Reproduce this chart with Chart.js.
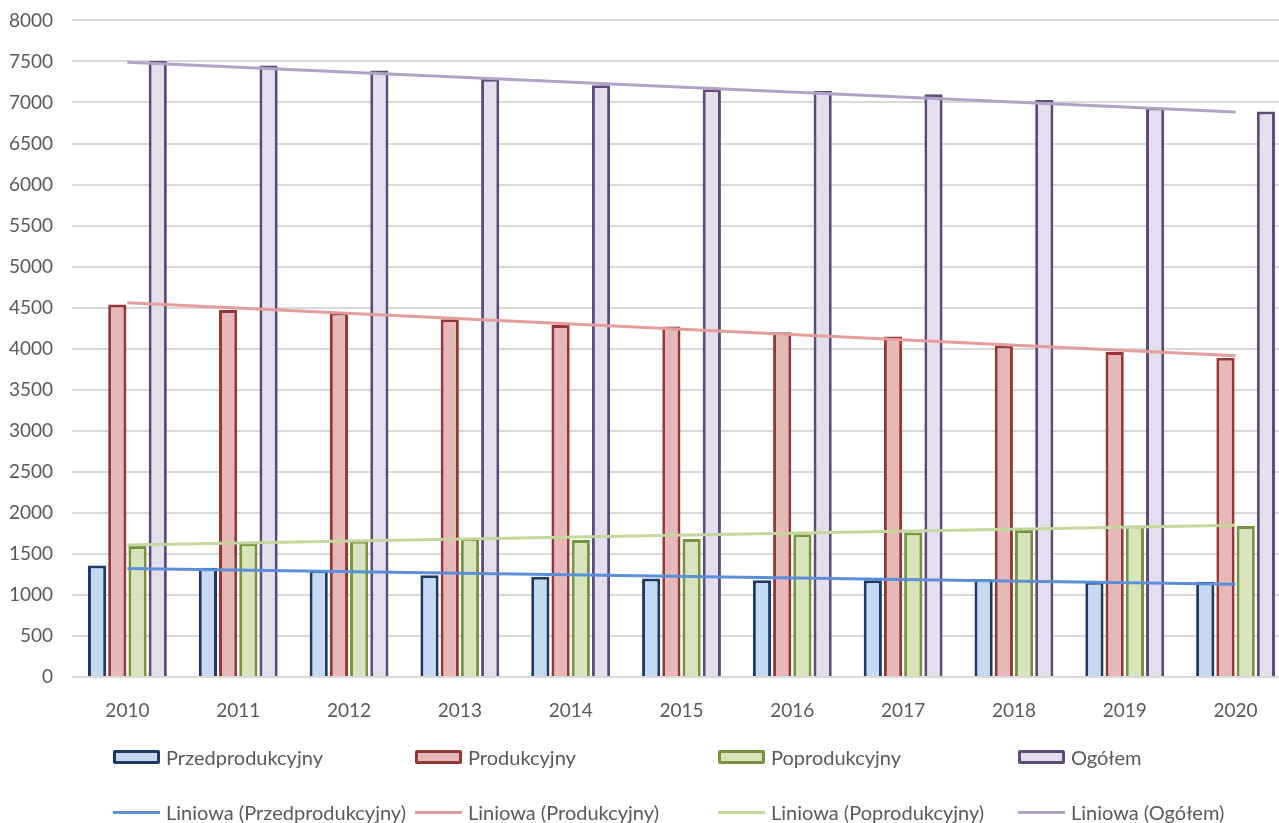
<!DOCTYPE html>
<html>
<head>
<meta charset="utf-8">
<script src="https://cdn.jsdelivr.net/npm/chart.js@4.4.0/dist/chart.umd.min.js"></script>
<style>
html, body { margin: 0; padding: 0; background: #fff; overflow: hidden; width: 1279px; height: 823px; }
#wrap { position: absolute; left: 0; top: -10px; width: 1291px; height: 740px; }
#legend { position: absolute; left: 0; top: 0; width: 1279px; height: 823px; font-family: Lato, sans-serif; font-size: 20px; color: #595959; }
.item { position: absolute; display: flex; align-items: center; white-space: nowrap; height: 24px; }
.box { width: 41px; height: 8px; border: 3px solid; margin-right: 6px; border-radius: 2px; }
.line { width: 47px; height: 3px; margin-right: 6px; }
</style>
</head>
<body>
<div id="wrap"><canvas id="chart"></canvas></div>
<div id="legend"></div>
<script>
// years on the x axis
var years = ["2010", "2011", "2012", "2013", "2014", "2015", "2016", "2017", "2018", "2019", "2020"];

// bar values
var przedprodukcyjny = [1360, 1330, 1300, 1240, 1220, 1200, 1180, 1180, 1190, 1160, 1160];
var produkcyjny = [4540, 4470, 4440, 4360, 4290, 4270, 4200, 4150, 4040, 3960, 3890];
var poprodukcyjny = [1595, 1630, 1660, 1690, 1670, 1680, 1740, 1760, 1790, 1845, 1840];
var ogolem = [7505, 7450, 7390, 7290, 7210, 7160, 7140, 7100, 7030, 6940, 6890];

// linear trend lines: value at 2010 and at 2020
var trendPrzed = [1323, 1130];
var trendProd = [4560, 3915];
var trendPopr = [1608, 1850];
var trendOgol = [7490, 6885];

var yTicksMin = 0, yTicksMax = 8000, yStep = 500;

var seriesNames = ["Przedprodukcyjny", "Produkcyjny", "Poprodukcyjny", "Ogółem"];
var fillColors = ["#C5D9F1", "#E6B9B8", "#D7E4BD", "#E4DFEC"];
var edgeColors = ["#1F3864", "#953735", "#77933C", "#604A7B"];
var trendColors = ["#5B8FD9", "#E39D9B", "#C3D69B", "#B3A2C7"];

var textColor = "#595959";
var fontFamily = "Lato, sans-serif";

var ends = (pair) => {
    var arr = [];
    for (var i = 0; i < years.length; i++) arr.push(null);
    arr[0] = pair[0];
    arr[years.length - 1] = pair[1];
    return arr;
};

var barSets = [przedprodukcyjny, produkcyjny, poprodukcyjny, ogolem];
var trendSets = [trendPrzed, trendProd, trendPopr, trendOgol];

var datasets = [];
for (var i = 0; i < 4; i++) {
    datasets.push({
        type: 'line',
        label: 'Liniowa (' + seriesNames[i] + ')',
        data: ends(trendSets[i]),
        borderColor: trendColors[i],
        backgroundColor: trendColors[i],
        borderWidth: 3,
        pointRadius: 0,
        spanGaps: true,
        fill: false,
        order: 0
    });
}
for (var i = 0; i < 4; i++) {
    datasets.push({
        type: 'bar',
        label: seriesNames[i],
        data: barSets[i],
        backgroundColor: fillColors[i],
        borderColor: edgeColors[i],
        borderWidth: 3,
        barPercentage: 0.9,
        categoryPercentage: 0.73,
        order: 1
    });
}

var ctx = document.getElementById('chart').getContext('2d');
var chart = new Chart(ctx, {
    data: { labels: years, datasets: datasets },
    options: {
        responsive: true,
        maintainAspectRatio: false,
        animation: false,
        layout: { padding: { top: 10, left: 0, right: 0, bottom: 0 } },
        plugins: { legend: { display: false }, tooltip: { enabled: false } },
        scales: {
            x: {
                grid: { display: false },
                border: { display: false },
                ticks: { color: textColor, font: { family: fontFamily, size: 19 }, padding: 14, maxRotation: 0 },
                afterFit: (s) => { s.height = 53; }
            },
            y: {
                min: yTicksMin,
                max: yTicksMax,
                grid: { color: "#D9D9D9", lineWidth: 2, drawTicks: false },
                border: { display: false },
                ticks: {
                    stepSize: yStep, color: textColor, font: { family: fontFamily, size: 19 }, padding: 19,
                    callback: (v) => String(v)
                },
                afterFit: (s) => { s.width = 72; }
            }
        }
    }
});

// legend in a fixed 4 column grid as in the reference
var legendCols = [113, 415, 718, 1018];
var legendRows = [757, 812];
var legendHtml = "";
for (var i = 0; i < 4; i++) {
    legendHtml += '<div class="item" style="left:' + legendCols[i] + 'px;top:' + (legendRows[0] - 12) + 'px">' +
        '<span class="box" style="background:' + fillColors[i] + ';border-color:' + edgeColors[i] + '"></span>' + seriesNames[i] + '</div>';
    legendHtml += '<div class="item" style="left:' + legendCols[i] + 'px;top:' + (legendRows[1] - 12) + 'px">' +
        '<span class="line" style="background:' + trendColors[i] + '"></span>Liniowa (' + seriesNames[i] + ')</div>';
}
document.getElementById('legend').innerHTML = legendHtml;
</script>
</body>
</html>
